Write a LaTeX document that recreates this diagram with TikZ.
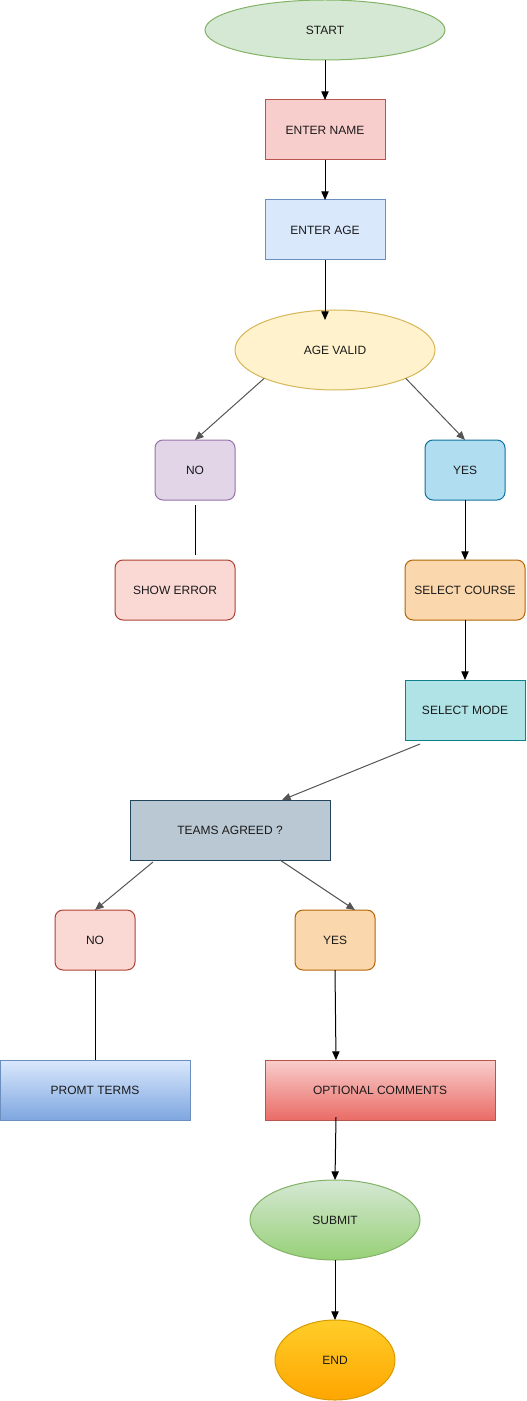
\documentclass[tikz,border=0pt]{standalone}
\usepackage{fontspec}
\setmainfont{Liberation Sans}
\usetikzlibrary{shapes.geometric,arrows.meta}
\definecolor{cStartF}{HTML}{D5E8D4}\definecolor{cStartD}{HTML}{82B366}
\definecolor{cRedF}{HTML}{F8CECC}\definecolor{cRedD}{HTML}{B85450}
\definecolor{cBlueF}{HTML}{DAE8FC}\definecolor{cBlueD}{HTML}{6C8EBF}
\definecolor{cYelF}{HTML}{FFF2CC}\definecolor{cYelD}{HTML}{D6B656}
\definecolor{cPurF}{HTML}{E1D5E7}\definecolor{cPurD}{HTML}{9673A6}
\definecolor{cCyF}{HTML}{B1DDF0}\definecolor{cCyD}{HTML}{10739E}
\definecolor{cErrF}{HTML}{FAD9D5}\definecolor{cErrD}{HTML}{AE4132}
\definecolor{cOrF}{HTML}{FAD7AC}\definecolor{cOrD}{HTML}{B46504}
\definecolor{cTeF}{HTML}{B0E3E6}\definecolor{cTeD}{HTML}{0E8088}
\definecolor{cSlF}{HTML}{BAC8D3}\definecolor{cSlD}{HTML}{23445D}
\definecolor{cBlue2}{HTML}{7EA6E0}
\definecolor{cRed2}{HTML}{EA6B66}
\definecolor{cGr2}{HTML}{97D077}
\definecolor{cEndT}{HTML}{FFCD28}\definecolor{cEndB}{HTML}{FFA500}\definecolor{cEndD}{HTML}{D79B00}
\definecolor{cDiag}{HTML}{555555}
\definecolor{cTxt}{HTML}{1A1A1A}
\tikzset{
  base/.style={line width=0.75pt, inner sep=0pt, outer sep=0pt, font=\fontsize{9pt}{11pt}\selectfont, text=cTxt, align=center, text height=6.5pt, text depth=0pt},
  oval/.style={base, ellipse},
  box/.style={base, rectangle},
  rbox/.style={base, rectangle, rounded corners=6pt},
  conn/.style={line width=0.75pt, -{Triangle[length=6.5pt,width=5.5pt]}},
  diag/.style={conn, draw=cDiag},
  plain/.style={line width=0.75pt},
}
\begin{document}
\begin{tikzpicture}[x=0.75pt,y=-0.75pt]
\useasboundingbox (0,0) rectangle (526,1401);
\node[oval, fill=cStartF, draw=cStartD, minimum width=180pt, minimum height=45pt] (start) at (325,30) {START};
\node[box, fill=cRedF, draw=cRedD, minimum width=90pt, minimum height=45pt] (name) at (325,130) {ENTER NAME};
\node[box, fill=cBlueF, draw=cBlueD, minimum width=90pt, minimum height=45pt] (age) at (325,230) {ENTER AGE};
\node[oval, fill=cYelF, draw=cYelD, minimum width=150pt, minimum height=60pt] (valid) at (335,350) {AGE VALID};
\node[rbox, fill=cPurF, draw=cPurD, minimum width=60pt, minimum height=45pt] (no1) at (195,470) {NO};
\node[rbox, fill=cCyF, draw=cCyD, minimum width=60pt, minimum height=45pt] (yes1) at (465,470) {YES};
\node[rbox, fill=cErrF, draw=cErrD, minimum width=90pt, minimum height=45pt] (err) at (175,590) {SHOW ERROR};
\node[rbox, fill=cOrF, draw=cOrD, minimum width=90pt, minimum height=45pt] (course) at (465,590) {SELECT COURSE};
\node[box, fill=cTeF, draw=cTeD, minimum width=90pt, minimum height=45pt] (mode) at (465,710) {SELECT MODE};
\node[box, fill=cSlF, draw=cSlD, minimum width=150pt, minimum height=45pt] (teams) at (230,830) {TEAMS AGREED ?};
\node[rbox, fill=cErrF, draw=cErrD, minimum width=60pt, minimum height=45pt] (no2) at (95,940) {NO};
\node[rbox, fill=cOrF, draw=cOrD, minimum width=60pt, minimum height=45pt] (yes2) at (335,940) {YES};
\node[box, top color=cBlueF, bottom color=cBlue2, draw=cBlueD, minimum width=142.5pt, minimum height=45pt] (terms) at (95,1090) {PROMT TERMS};
\node[box, top color=cRedF, bottom color=cRed2, draw=cRedD, minimum width=172.5pt, minimum height=45pt] (comments) at (380,1090) {OPTIONAL COMMENTS};
\node[oval, top color=cStartF, bottom color=cGr2, draw=cStartD, minimum width=127.5pt, minimum height=60pt] (submit) at (335,1220) {SUBMIT};
\node[oval, top color=cEndT, bottom color=cEndB, draw=cEndD, minimum width=90pt, minimum height=60pt] (end) at (335,1360) {END};

\draw[conn] (start.south) -- (name.north);
\draw[conn] (name.south) -- (age.north);
\draw[conn] (age.south) -- ([xshift=-7.5pt,yshift=-7.5pt]valid.north);
\draw[diag] (valid.south west) -- (no1.north);
\draw[diag] (valid.south east) -- (yes1.north);
\draw[plain] ([yshift=-3.75pt]no1.south) -- ([xshift=15pt,yshift=3.75pt]err.north);
\draw[conn] (yes1.south) -- (course.north);
\draw[conn] (course.south) -- (mode.north);
\draw[diag] ([xshift=-33.75pt,yshift=-3pt]mode.south) -- ([xshift=39pt]teams.north);
\draw[diag] ([xshift=17.25pt,yshift=-1.5pt]teams.south west) -- (no2.north);
\draw[diag] ([xshift=37.5pt]teams.south) -- ([xshift=15pt]yes2.north);
\draw[plain] (no2.south) -- (terms.north);
\draw[conn] (yes2.south) -- ([xshift=-33pt]comments.north);
\draw[conn] ([xshift=-33pt,yshift=2.25pt]comments.south) -- (submit.north);
\draw[conn] (submit.south) -- (end.north);
\end{tikzpicture}
\end{document}
